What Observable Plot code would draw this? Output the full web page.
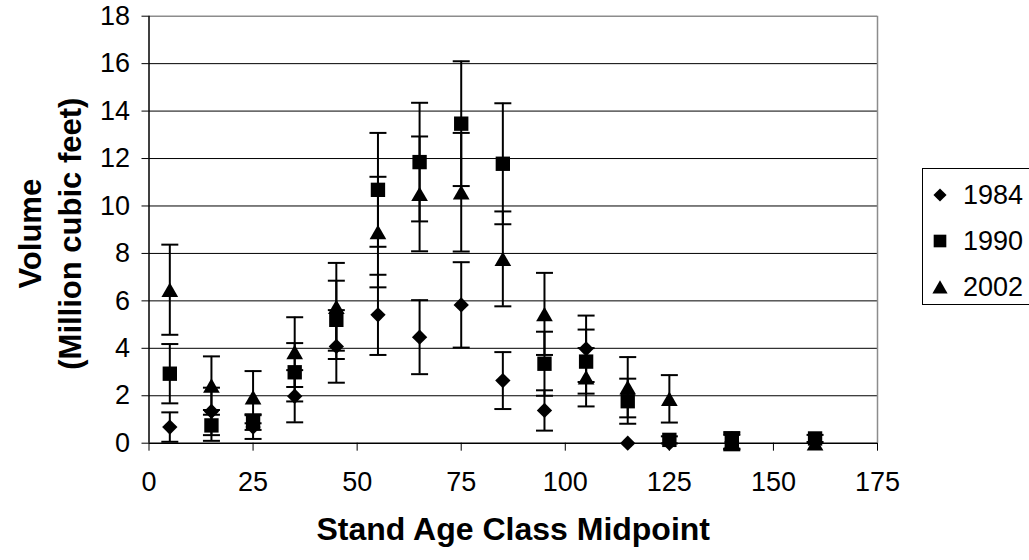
<!DOCTYPE html>
<html>
<head>
<meta charset="utf-8">
<script src="https://cdn.jsdelivr.net/npm/d3@7"></script>
<script src="https://cdn.jsdelivr.net/npm/@observablehq/plot@0.6"></script>
<style>
  html, body { margin: 0; padding: 0; background: #fff; overflow: hidden; }
  #wrap { position: relative; width: 1029px; height: 560px; font-family: "Liberation Sans", Arial, sans-serif; }
  #legend { position: absolute; left: 922px; top: 168px; width: 130px; height: 137px; border: 1px solid #000; background: #fff; box-sizing: border-box; }
  .row { position: absolute; left: 0; height: 30px; display: flex; align-items: center; }
  .row svg { display: block; }
  .row span { font-size: 27px; color: #000; margin-left: 15px; }
</style>
</head>
<body>
<div id="wrap">
  <div id="chart"></div>
  <div id="legend"></div>
</div>
<script>
// ---- data ----
const ages = [5, 15, 25, 35, 45, 55, 65, 75, 85, 95, 105, 115, 125, 140, 160];
const series = ["1984", "1990", "2002"];
const vol1984 = [0.68, 1.34, 0.68, 1.98, 4.08, 5.41, 4.47, 5.83, 2.64, 1.38, 3.98, 0, 0, 0.05, 0.05];
const err1984 = [0.62, 1.0, 0.5, 1.1, 1.53, 1.69, 1.56, 1.8, 1.2, 0.85, 1.4, 0, 0, 0.3, 0];
const vol1990 = [2.93, 0.75, 0.89, 2.99, 5.2, 10.68, 11.85, 13.47, 11.78, 3.35, 3.44, 1.77, 0.14, 0.12, 0.2];
const err1990 = [1.25, 0.65, 0.33, 1.23, 1.65, 2.4, 2.5, 2.63, 2.55, 1.35, 1.35, 0.95, 0.15, 0.35, 0.15];
const vol2002 = [6.47, 2.43, 1.94, 3.84, 5.75, 8.9, 10.51, 10.58, 7.77, 5.45, 2.78, 2.36, 1.87, 0.05, 0];
const err2002 = [1.9, 1.23, 1.1, 1.47, 1.85, 2.33, 2.42, 2.5, 2.0, 1.73, 1.23, 1.27, 1.0, 0.35, 0];
const xTicks = [0, 25, 50, 75, 100, 125, 150, 175];
const yTicks = [0, 2, 4, 6, 8, 10, 12, 14, 16, 18];
const xTitle = "Stand Age Class Midpoint";
const yTitle = "Volume\n(Million cubic feet)";

const values = {"1984": vol1984, "1990": vol1990, "2002": vol2002};
const errors = {"1984": err1984, "1990": err1990, "2002": err2002};
const rows = series.flatMap(s => ages.map((a, i) => ({series: s, age: a, v: values[s][i], e: errors[s][i]})));
const withErr = rows.filter(d => d.e > 0);

const capSymbol = { draw(ctx) { ctx.moveTo(-8.5, 0); ctx.lineTo(8.5, 0); } };
const symbols = {"1984": "diamond2", "1990": "square", "2002": "triangle"};
const radii = {"1984": 6.9, "1990": 8.1, "2002": 6.2};
const shift = {"1984": 0, "1990": 0, "2002": 2.4};

const markerMarks = series.map(s => Plot.dot(rows.filter(d => d.series === s), {
  x: "age", y: "v", symbol: () => symbols[s], r: radii[s], fill: "#000", stroke: "none", dy: shift[s]
}));

const chart = Plot.plot({
  width: 1029,
  height: 560,
  marginLeft: 148.5,
  marginRight: 152,
  marginTop: 15.7,
  marginBottom: 117.3,
  style: { fontFamily: "'Liberation Sans', Arial, sans-serif", fontSize: "27px", color: "#000", background: "transparent", overflow: "visible" },
  x: { domain: [0, 175], label: null },
  y: { domain: [0, 18], label: null },
  symbol: { type: "identity" },
  marks: [
    Plot.ruleY(yTicks.filter(t => t > 0 && t < 18), { stroke: "#000", strokeWidth: 1 }),
    Plot.ruleY([18], { stroke: "#8c8c8c", strokeWidth: 1.5 }),
    Plot.ruleX([175], { stroke: "#8c8c8c", strokeWidth: 1.5 }),
    Plot.axisX({ ticks: xTicks, tickSize: 8, tickPadding: 21, label: null, stroke: "#000", fill: "#000", fontSize: 27 }),
    Plot.axisY({ ticks: yTicks, tickSize: 7, tickPadding: 12, label: null, stroke: "#000", fill: "#000", fontSize: 27 }),
    Plot.ruleX([0], { stroke: "#000", strokeWidth: 1.5 }),
    Plot.ruleY([0], { stroke: "#000", strokeWidth: 1.5 }),
    Plot.ruleX(withErr, { x: "age", y1: d => d.v - d.e, y2: d => d.v + d.e, stroke: "#000", strokeWidth: 2 }),
    Plot.dot(withErr, { x: "age", y: d => d.v + d.e, symbol: () => capSymbol, r: 5, stroke: "#000", fill: "none", strokeWidth: 2 }),
    Plot.dot(withErr, { x: "age", y: d => d.v - d.e, symbol: () => capSymbol, r: 5, stroke: "#000", fill: "none", strokeWidth: 2 }),
    ...markerMarks,
    Plot.text([xTitle], { frameAnchor: "bottom", dy: 97, fontSize: 32, fontWeight: "bold", fill: "#000" }),
    Plot.text([yTitle], { frameAnchor: "left", textAnchor: "middle", lineAnchor: "middle", dx: -101, dy: 4, rotate: -90, fontSize: 31, fontWeight: "bold", fill: "#000", lineHeight: 1.3 })
  ]
});
document.getElementById("chart").appendChild(chart);

// ---- legend ----
const legend = d3.select("#legend");
const legendSymbols = {"1984": d3.symbolDiamond2, "1990": d3.symbolSquare, "2002": d3.symbolTriangle};
const legendSizes = {"1984": 110, "1990": 160, "2002": 100};
series.forEach((s, i) => {
  const row = legend.append("div").attr("class", "row").style("top", (11 + i * 46) + "px").style("left", "9px");
  const svg = row.append("svg").attr("width", 16).attr("height", 16);
  svg.append("path")
    .attr("transform", `translate(8,${s === "2002" ? 10 : 8})`)
    .attr("d", d3.symbol(legendSymbols[s], legendSizes[s])())
    .attr("fill", "#000");
  row.append("span").text(s);
});
</script>
</body>
</html>
